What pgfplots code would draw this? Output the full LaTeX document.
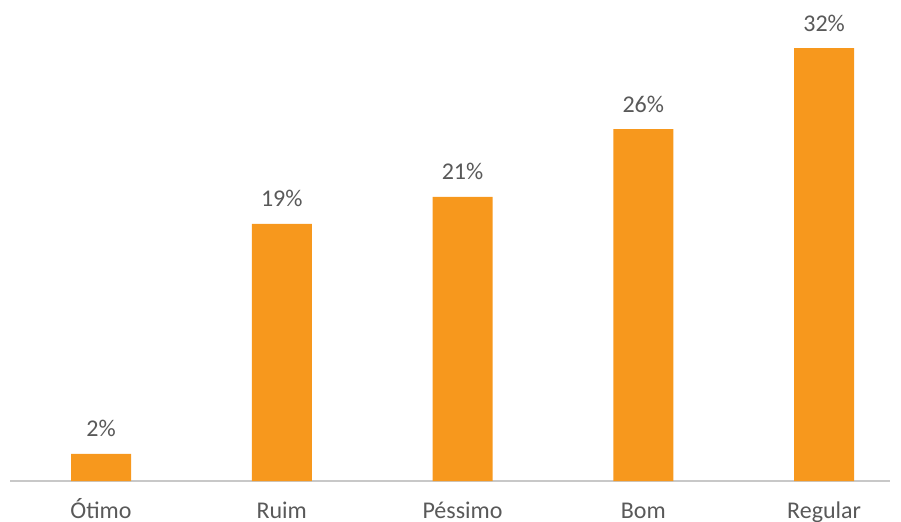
\documentclass[border=0pt]{standalone}
\usepackage{pgfplots}
\pgfplotsset{compat=1.18}
\usepackage{fontspec}
\setmainfont{Carlito}
\definecolor{barorange}{RGB}{247,152,29}
\definecolor{txtgray}{RGB}{89,89,89}
\definecolor{axgray}{RGB}{200,200,200}
\begin{document}
\begin{tikzpicture}[x=0.75pt,y=0.75pt]
\path[use as bounding box] (0,0) rectangle (901,522);
\begin{axis}[
  at={(75.75pt,30.75pt)}, anchor=origin,
  scale only axis,
  width=660pt, height=360.75pt,
  xmin=-0.503, xmax=4.365,
  ymin=0, ymax=35.55,
  axis x line*=bottom,
  axis y line=none,
  x axis line style={axgray, line width=1.2pt, -},
  ybar, bar width=45pt,
  xtick=data,
  xticklabels={Ótimo,Ruim,Péssimo,Bom,Regular},
  major tick length=0pt,
  /pgf/number format/assume math mode=true,
  x tick label style={text=txtgray, font=\fontsize{18}{20}\selectfont, anchor=base, yshift=-27.75pt},
  nodes near coords={\pgfmathprintnumber{\pgfplotspointmeta}\%},
  nodes near coords style={text=txtgray, font=\fontsize{18}{20}\selectfont, anchor=base, yshift=12.75pt},
  clip=false,
]
\addplot[fill=barorange, draw=none] coordinates {(0,2) (1,19) (2,21) (3,26) (4,32)};
\end{axis}
\end{tikzpicture}
\end{document}
